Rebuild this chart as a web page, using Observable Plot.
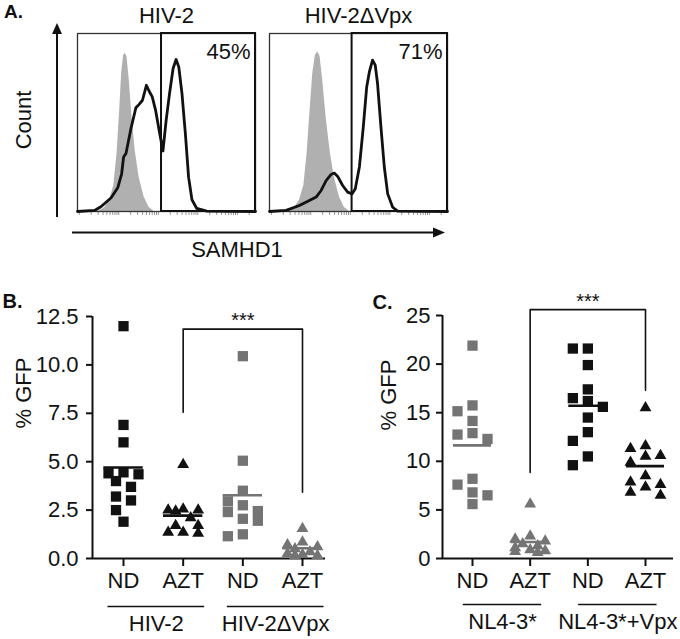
<!DOCTYPE html>
<html><head><meta charset="utf-8">
<script src="https://cdn.jsdelivr.net/npm/d3@7"></script>
<script src="https://cdn.jsdelivr.net/npm/@observablehq/plot@0.6"></script>
<style>
body{margin:0;background:#fff;}
#fig{position:relative;width:680px;height:639px;overflow:hidden;background:#fff;}
#letterA{position:absolute;left:4px;top:2px;font:bold 19px "Liberation Sans", Arial, sans-serif;color:#111;line-height:20px;}
</style></head><body><div id="fig"><div id="letterA">A.</div></div>
<script>
// ---------------- Panel A data (flow histograms, x = relative SAMHD1 channel 0-100, y = % of max count) ----------------
const histViruses = ["HIV-2", "HIV-2ΔVpx"];
const gateStart = [47.2, 46.4];
const gatePercent = ["45%", "71%"];
const isotypeHIV2 = [[11.5,0],[15.2,2.1],[18,6.2],[20.4,14.6],[22.2,32.5],[23.7,56.8],[24.8,77.5],[25.9,87.8],[26.9,88.7],[27.8,86.9],[29.1,73.7],[30.6,53.1],[32.4,34.3],[34.6,19.3],[37.4,8.1],[40.2,2.4],[43,0]];
const samhd1HIV2 = [[0,0],[9.6,0.6],[13.3,2.8],[18.9,7.7],[22.6,13.3],[24.8,21.2],[25.9,30.6],[27.2,32.5],[30,46.5],[32.8,58.3],[34.6,60.2],[36.5,62.5],[38.7,70.9],[40.2,67.7],[42,64.4],[43.9,56.8],[45.7,46.5],[48,34],[49.8,51.2],[51.7,66.2],[53.7,80.3],[55.4,85.4],[56.9,81.2],[58.7,66.2],[60.6,43.7],[62.4,19.3],[64.3,6.6],[67,1.7],[72.6,0.2],[100,0]];
const isotypeDVpx = [[10.3,0],[14,2.1],[16.8,6.2],[19.3,14.6],[21.1,32.5],[22.8,56.8],[24.3,77.5],[25.8,87.8],[27.1,89.7],[28.4,87.2],[29.9,73.7],[31.8,53.1],[34,34.3],[36.4,19.3],[39.3,8.1],[42,2.4],[44.9,0]];
const samhd1DVpx = [[0,0],[9.3,0.6],[16.8,3.4],[22.4,6.2],[26.2,8.1],[29,11.8],[31.8,17.4],[34.6,20.8],[36.4,21.6],[38.3,19.7],[41.1,14.6],[43.9,10.9],[46.4,9.9],[48.2,12.8],[50.5,25],[52.7,47.5],[54.6,70],[56.1,78.4],[57.9,85],[59.4,82.2],[60.7,71.9],[62.6,47.5],[64.5,25],[66.4,9.9],[69.2,2.4],[72,0.2],[100,0]];

// ---------------- Panel B data (% GFP) ----------------
const categoriesB = ["ND", "AZT", "ND", "AZT"];
const groupsB = ["HIV-2", "HIV-2ΔVpx"];
const hiv2ND  = [12.0, 6.9, 6.0, 4.45, 4.4, 4.35, 4.0, 3.7, 3.2, 3.0, 2.5, 1.9];
const hiv2AZT = [4.85, 2.55, 2.5, 2.5, 2.45, 2.1, 1.7, 1.7, 1.35, 1.35, 1.3];
const dvpxND  = [10.45, 5.05, 3.5, 2.95, 2.75, 2.45, 2.4, 2.05, 1.95, 1.25, 1.15];
const dvpxAZT = [1.55, 0.85, 0.7, 0.6, 0.5, 0.35, 0.25, 0.2, 0.15, 0.15];
const yTicksB = [0, 2.5, 5, 7.5, 10, 12.5];
const bracketB = {from: 2, to: 4, fromY: 7.55, toY: 3.42, top: 11.85, label: "***"};

// ---------------- Panel C data (% GFP) ----------------
const categoriesC = ["ND", "AZT", "ND", "AZT"];
const groupsC = ["NL4-3*", "NL4-3*+Vpx"];
const nlND   = [21.9, 15.75, 15.15, 14.15, 12.9, 12.75, 12.3, 8.2, 7.6, 6.8, 6.5, 5.6];
const nlAZT  = [5.6, 2.3, 2.0, 1.8, 1.5, 1.3, 1.1, 0.9, 0.8, 0.7, 0.6];
const vpxND  = [21.6, 21.6, 19.9, 17.4, 16.5, 16.2, 15.6, 14.5, 13.0, 12.1, 10.5, 9.6];
const vpxAZT = [15.5, 11.6, 11.3, 10.6, 10.5, 9.9, 8.5, 7.85, 7.6, 7.35, 6.8, 6.5];
const yTicksC = [0, 5, 10, 15, 20, 25];
const bracketC = {from: 2, to: 4, fromY: 8.85, toY: 17.3, top: 25.6, label: "***"};

// ---------------- styling ----------------
const FONT = '"Liberation Sans", Arial, Helvetica, sans-serif';
const INK = "#111";
const GRAY = "#747474";
const ISO = "#b0b0b0";
const baseStyle = {fontFamily: FONT, fontSize: "22px", color: INK, background: "transparent", overflow: "visible"};
const fig = document.getElementById("fig");
function place(svg, left, top) {
  svg.style.position = "absolute"; svg.style.left = left + "px"; svg.style.top = top + "px";
  svg.style.maxWidth = "none";
  fig.appendChild(svg);
}

// ---------------- Panel A ----------------
const histRows = (pairs, virus) => pairs.map(([x, y]) => ({virus, x, y}));
const isoTable = [...histRows(isotypeHIV2, histViruses[0]), ...histRows(isotypeDVpx, histViruses[1])];
const samTable = [...histRows(samhd1HIV2, histViruses[0]), ...histRows(samhd1DVpx, histViruses[1])];
const gateTable = histViruses.map((virus, i) => ({virus, gate: gateStart[i], pct: gatePercent[i]}));
const histTicks = [];
for (let d = 0; d < 5; d++) for (let k = 1; k < 10; k++) { const t = (d + Math.log10(k)) * 22.2 + 1; if (t <= 99) histTicks.push(t); }

const plotA = Plot.plot({
  width: 460, height: 265,
  marginLeft: 76, marginRight: 12, marginTop: 33, marginBottom: 54,
  style: baseStyle,
  fx: {domain: histViruses, paddingInner: 0.0725, paddingOuter: 0, tickSize: 0, tickPadding: 11, label: null, axis: "top"},
  x: {domain: [0, 100], label: null},
  y: {domain: [0, 100], axis: null, label: null},
  marks: [
    Plot.areaY(isoTable, {fx: "virus", x: "x", y: "y", fill: ISO}),
    Plot.axisX(histTicks, {tickSize: 4, stroke: "#999", tickFormat: () => "", label: null}),
    Plot.frame({stroke: "#333", strokeWidth: 1.3}),
    Plot.rect(gateTable, {fx: "virus", x1: "gate", x2: () => 100, y1: () => 0, y2: () => 100, stroke: INK, strokeWidth: 2, fill: "none"}),
    Plot.line(samTable, {fx: "virus", x: "x", y: "y", stroke: INK, strokeWidth: 2.8}),
    Plot.text(gateTable, {fx: "virus", frameAnchor: "top-right", text: "pct", dx: -5, dy: 10, lineAnchor: "top", textAnchor: "end", fill: INK})
  ]
});
place(plotA, 0, 0);
{
  const s = d3.select(plotA);
  const g = s.append("g").attr("stroke", INK).attr("fill", INK);
  g.append("line").attr("x1", 57).attr("x2", 57).attr("y1", 217).attr("y2", 32).attr("stroke-width", 2);
  g.append("path").attr("d", "M57,23 L52,34 L62,34 Z").attr("stroke", "none");
  g.append("line").attr("x1", 72).attr("x2", 434).attr("y1", 232.5).attr("y2", 232.5).attr("stroke-width", 2);
  g.append("path").attr("d", "M445,232.5 L433,227.5 L433,237.5 Z").attr("stroke", "none");
  s.append("text").attr("transform", "translate(23,120) rotate(-90)").attr("text-anchor", "middle").attr("dy", "0.35em").attr("fill", INK).text("Count");
  s.append("text").attr("x", 237).attr("y", 257).attr("text-anchor", "middle").attr("fill", INK).text("SAMHD1");
}

// ---------------- Panels B and C ----------------
function dodgeOffsets(ys, size, step) {
  const order = d3.range(ys.length).sort((a, b) => ys[a] - ys[b]);
  const slots = [0, -1, 1, -2, 2].map(m => m * step);
  const placed = [], out = new Array(ys.length);
  for (const i of order) {
    let best = 0, bestCost = Infinity;
    for (const sx of slots) {
      let cost = 0;
      for (const p of placed) {
        const ox = size - Math.abs(p.x - sx), oy = size - Math.abs(p.y - ys[i]);
        if (ox > 0 && oy > 0) cost += ox * oy;
      }
      if (cost < bestCost - 1e-9) { bestCost = cost; best = sx; }
      if (cost === 0) break;
    }
    placed.push({x: best, y: ys[i]}); out[i] = best;
  }
  return out;
}

function scatterPanel(c) {
  const innerW = c.width - c.mL - c.mR, innerH = c.height - c.mT - c.mB;
  const pxPerX = innerW / (c.xDomain[1] - c.xDomain[0]);
  const yPx = v => c.mT + (1 - v / c.yMax) * innerH;
  const marks = [
    Plot.ruleY([0], {stroke: INK, strokeWidth: 2}),
    Plot.ruleX([c.xDomain[0]], {stroke: INK, strokeWidth: 2}),
    Plot.axisY({ticks: c.yTicks, tickFormat: c.yFormat, tickSize: 6, tickPadding: c.tickPadding, strokeWidth: 2, label: null}),
    Plot.axisX({ticks: [1, 2, 3, 4], tickFormat: i => c.categories[i - 1], tickSize: 8, tickPadding: 6, strokeWidth: 2, label: null})
  ];
  c.series.forEach((s, i) => {
    const pos = i + 1;
    const offs = dodgeOffsets(s.values.map(yPx), 11, 7.5);
    const rows = s.values.map((v, j) => ({x: pos + offs[j] / pxPerX, v}));
    marks.push(Plot.dot(rows, {x: "x", y: "v", symbol: s.shape, fill: s.color, stroke: "none", r: s.shape === "square" ? 5.8 : 4.4}));
    marks.push(Plot.ruleY([{pos, mean: d3.mean(s.values)}], {y: "mean", x1: d => d.pos - 0.33, x2: d => d.pos + 0.33, stroke: s.color, strokeWidth: 2.6}));
  });
  const b = c.bracket;
  const bPts = [{x: b.from, y: b.fromY}, {x: b.from, y: b.top}, {x: b.to, y: b.top}, {x: b.to, y: b.toY}];
  marks.push(Plot.line(bPts, {x: "x", y: "y", stroke: INK, strokeWidth: 1.6}));
  marks.push(Plot.text([b], {x: d => (d.from + d.to) / 2, y: "top", text: "label", lineAnchor: "bottom", dy: -2, fontSize: 20, fill: INK}));
  const groupRows = c.groups.map((name, g) => ({name, x1: 2 * g + 1 - c.padL, x2: 2 * g + 2 + c.padR}));
  marks.push(Plot.ruleY(groupRows, {y: () => 0, x1: "x1", x2: "x2", dy: c.lineDy, stroke: INK, strokeWidth: 1.5}));
  marks.push(Plot.text(groupRows, {x: d => (d.x1 + d.x2) / 2, y: () => 0, dy: c.groupDy, text: "name", lineAnchor: "middle", fill: INK}));
  marks.push(Plot.text([c.letter], {frameAnchor: "top-left", text: d => d, dx: c.letterDx, dy: c.letterDy, textAnchor: "start", lineAnchor: "bottom", fontWeight: "bold", fontSize: 20, fill: INK}));
  marks.push(Plot.text(["% GFP"], {frameAnchor: "left", text: d => d, rotate: -90, dx: c.yLabelDx, dy: c.yLabelDy, fill: INK}));
  return Plot.plot({
    width: c.width, height: c.height,
    marginLeft: c.mL, marginRight: c.mR, marginTop: c.mT, marginBottom: c.mB,
    style: baseStyle,
    x: {domain: c.xDomain, label: null},
    y: {domain: [0, c.yMax], label: null},
    marks
  });
}

const plotB = scatterPanel({
  width: 340, height: 349, mL: 92, mR: 15, mT: 26, mB: 81,
  xDomain: [0.4804, 4.3855], yMax: 12.5, yTicks: yTicksB, yFormat: d3.format(".1f"), tickPadding: 8,
  categories: categoriesB, groups: groupsB,
  series: [
    {values: hiv2ND, shape: "square", color: INK},
    {values: hiv2AZT, shape: "triangle", color: INK},
    {values: dvpxND, shape: "square", color: GRAY},
    {values: dvpxAZT, shape: "triangle", color: GRAY}
  ],
  bracket: bracketB, padL: 0.26, padR: 0.36, lineDy: 48, groupDy: 65,
  letter: "B.", letterDx: -90, letterDy: -9, yLabelDx: -69, yLabelDy: -9
});
place(plotB, 0, 290);

const plotC = scatterPanel({
  width: 340, height: 349, mL: 102, mR: 7, mT: 25, mB: 81,
  xDomain: [0.4798, 4.4855], yMax: 25, yTicks: yTicksC, yFormat: d3.format("d"), tickPadding: 6,
  categories: categoriesC, groups: groupsC,
  series: [
    {values: nlND, shape: "square", color: GRAY},
    {values: nlAZT, shape: "triangle", color: GRAY},
    {values: vpxND, shape: "square", color: INK},
    {values: vpxAZT, shape: "triangle", color: INK}
  ],
  bracket: bracketC, padL: 0.16, padR: 0.2, lineDy: 46, groupDy: 63,
  letter: "C.", letterDx: -70, letterDy: -7, yLabelDx: -54, yLabelDy: -6.5
});
place(plotC, 340, 290);
</script></body></html>
